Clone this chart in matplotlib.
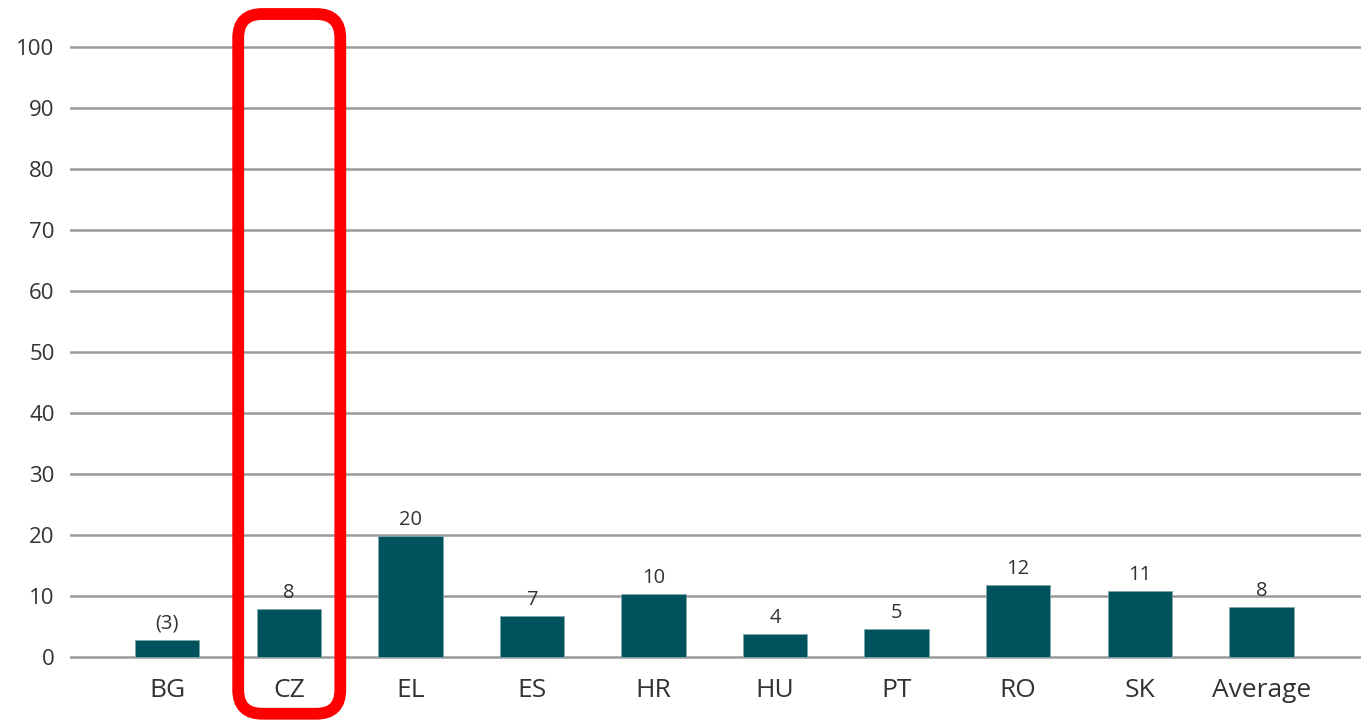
import matplotlib
matplotlib.use('Agg')
import matplotlib.pyplot as plt
from matplotlib.patches import FancyBboxPatch
from matplotlib.transforms import IdentityTransform

countries = ['BG', 'CZ', 'EL', 'ES', 'HR', 'HU', 'PT', 'RO', 'SK', 'Average']
values = [2.8, 7.9, 19.8, 6.7, 10.3, 3.8, 4.6, 11.8, 10.8, 8.2]
value_labels = ['(3)', '8', '20', '7', '10', '4', '5', '12', '11', '8']
yticks = [0, 10, 20, 30, 40, 50, 60, 70, 80, 90, 100]
highlight = 'CZ'

plt.rcParams['font.family'] = ['Open Sans', 'DejaVu Sans']

fig = plt.figure(figsize=(13.61, 7.24), dpi=100)
ax = fig.add_axes([0.0514, 0.0841, 0.9486, 0.8679])

x = list(range(len(countries)))
ax.bar(x, values, width=0.53, color='#00525c', edgecolor='#7fa6ab', linewidth=0.6, zorder=3)
for xi, v, lab in zip(x, values, value_labels):
    ax.text(xi, v + 1.0, lab, ha='center', va='bottom', fontsize=14.5, color='#333333', zorder=4)

ax.set_xlim(-0.8, 9.82)
ax.set_ylim(-1, 102)
ax.set_yticks(yticks)
ax.set_xticks(x)
ax.set_xticklabels(countries, fontsize=19, color='#333333')
ax.set_yticklabels([str(t) for t in yticks], fontsize=16, color='#333333')
ax.tick_params(axis='both', length=0)
ax.tick_params(axis='x', pad=11)
ax.tick_params(axis='y', pad=11)
ax.yaxis.grid(True, color='#9a9a9a', linewidth=1.8, zorder=0)
ax.set_axisbelow(True)
for s in ax.spines.values():
    s.set_visible(False)

# red rounded frame around the highlighted country
i = countries.index(highlight)
fig.canvas.draw()
x0, y0 = ax.transData.transform((i - 0.416, -9.3))
x1, y1 = ax.transData.transform((i + 0.424, 105.4))
pad = 24
frame = FancyBboxPatch((x0 + pad, y0 + pad), (x1 - x0) - 2 * pad, (y1 - y0) - 2 * pad,
                       boxstyle='round,pad=%d' % pad, transform=IdentityTransform(),
                       facecolor='none', edgecolor='#ff0000', linewidth=8.5, zorder=10)
fig.patches.append(frame)
frame.set_figure(fig)

fig.savefig('out.png', dpi=100)
